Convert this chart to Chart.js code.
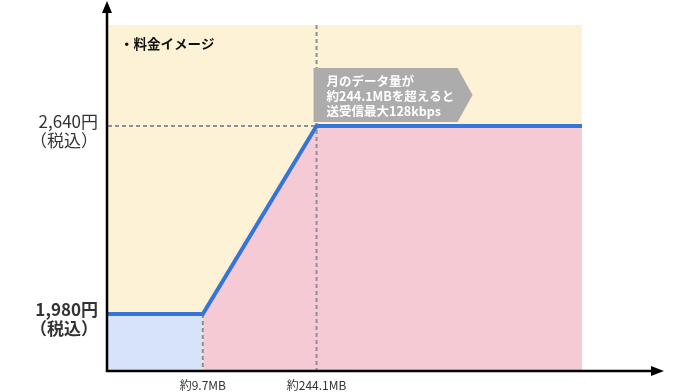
<!DOCTYPE html>
<html>
<head>
<meta charset="utf-8">
<script src="https://cdn.jsdelivr.net/npm/chart.js@4.4.1/dist/chart.umd.min.js"></script>
<style>
body{margin:0;background:#fff;}
</style>
</head>
<body>
<canvas id="chart" width="700" height="392"></canvas>
<script>
// schematic x positions for each breakpoint (axis is not to scale)
var xPositions = [0, 1, 2.2, 5];
var prices = [1980, 1980, 2640, 2640];
var xTickValues = [1, 2.2];
var xTickLabels = ['約9.7MB', '約244.1MB'];
var yTickValues = [1980, 2640];
var yTickLabels = ['1,980円', '2,640円'];
var yTickSub = '（税込）';
var titleText = '・料金イメージ';
var noteLines = ['月のデータ量が', '約244.1MBを超えると', '送受信最大128kbps'];
var yMin = 1783, yMax = 2995, xMax = 5;

var FONT = '"Noto Sans CJK JP", "Noto Sans", sans-serif';

function seg(a, b) {
	var out = [];
	for (var i = a; i <= b; i++) out.push({x: xPositions[i], y: prices[i]});
	return out;
}

var dashStyle = {
	borderColor: '#8c9099',
	borderWidth: 2,
	borderDash: [4, 3],
	pointRadius: 0,
	fill: false,
	order: 1
};

var decor = {
	id: 'decor',
	beforeDraw: function (chart) {
		var a = chart.chartArea, ctx = chart.ctx;
		ctx.save();
		ctx.fillStyle = '#fef2d6';
		ctx.fillRect(a.left, a.top, a.right - a.left, a.bottom - a.top);
		ctx.restore();
	},
	afterDraw: function (chart) {
		var a = chart.chartArea, ctx = chart.ctx;
		var xs = chart.scales.x, ys = chart.scales.y;
		ctx.save();

		// axes with arrow heads
		var ax = a.left - 1, ay = a.bottom + 1;
		ctx.strokeStyle = '#000';
		ctx.fillStyle = '#000';
		ctx.lineWidth = 2.5;
		ctx.beginPath();
		ctx.moveTo(ax, ay + 1);
		ctx.lineTo(ax, 10);
		ctx.moveTo(ax - 1, ay);
		ctx.lineTo(652, ay);
		ctx.stroke();
		ctx.beginPath();
		ctx.moveTo(ax, 1);
		ctx.lineTo(ax - 5, 13);
		ctx.lineTo(ax + 5, 13);
		ctx.closePath();
		ctx.fill();
		ctx.beginPath();
		ctx.moveTo(664, ay);
		ctx.lineTo(651, ay - 5);
		ctx.lineTo(651, ay + 5);
		ctx.closePath();
		ctx.fill();

		// title
		ctx.font = 'bold 13.5px ' + FONT;
		ctx.fillStyle = '#111';
		ctx.textBaseline = 'middle';
		ctx.fillText(titleText, a.left + 12, a.top + 19);

		// note box pointing right
		var bx = xs.getPixelForValue(xPositions[2]) - 3;
		var bb = ys.getPixelForValue(prices[2]) - 4;
		var bt = bb - 54;
		ctx.fillStyle = '#acacac';
		ctx.beginPath();
		ctx.moveTo(bx, bt);
		ctx.lineTo(bx + 144, bt);
		ctx.lineTo(bx + 159, bt + 27);
		ctx.lineTo(bx + 144, bb);
		ctx.lineTo(bx, bb);
		ctx.closePath();
		ctx.fill();
		ctx.fillStyle = '#fff';
		ctx.font = 'bold 12.5px ' + FONT;
		for (var i = 0; i < noteLines.length; i++) {
			ctx.fillText(noteLines[i], bx + 13, bt + 13 + i * 15);
		}
		ctx.restore();
	}
};

new Chart(document.getElementById('chart'), {
	type: 'line',
	plugins: [decor],
	data: {
		datasets: [
			{
				data: seg(0, 3),
				borderColor: '#3575d8',
				borderWidth: 4,
				pointRadius: 0,
				fill: false,
				order: 0
			},
			Object.assign({data: [{x: xPositions[1], y: prices[1]}, {x: xPositions[1], y: yMin}]}, dashStyle),
			Object.assign({data: [{x: xPositions[2], y: yMax}, {x: xPositions[2], y: yMin}]}, dashStyle),
			Object.assign({data: [{x: xPositions[0], y: prices[2]}, {x: xPositions[2], y: prices[2]}]}, dashStyle),
			{
				data: seg(0, 1),
				borderWidth: 0,
				pointRadius: 0,
				backgroundColor: '#d6e3f8',
				fill: 'start',
				order: 3
			},
			{
				data: seg(1, 3),
				borderWidth: 0,
				pointRadius: 0,
				backgroundColor: '#f5cad4',
				fill: 'start',
				order: 3
			}
		]
	},
	options: {
		responsive: false,
		animation: false,
		layout: {padding: {top: 25, right: 118, left: 0, bottom: 0}},
		plugins: {legend: {display: false}, tooltip: {enabled: false}},
		scales: {
			x: {
				type: 'linear',
				min: 0,
				max: xMax,
				grid: {display: false, drawTicks: false},
				border: {display: false},
				afterBuildTicks: function (s) {
					s.ticks = xTickValues.map(function (v) { return {value: v}; });
				},
				afterFit: function (s) {
					s.height = 22;
					s.paddingLeft = 0;
					s.paddingRight = 0;
				},
				ticks: {
					autoSkip: false,
					maxRotation: 0,
					padding: 8,
					color: '#333',
					font: {family: FONT, size: 12},
					callback: function (v) {
						return xTickLabels[xTickValues.indexOf(v)];
					}
				}
			},
			y: {
				min: yMin,
				max: yMax,
				grid: {display: false, drawTicks: false},
				border: {display: false},
				afterBuildTicks: function (s) {
					s.ticks = yTickValues.map(function (v) { return {value: v}; });
				},
				afterFit: function (s) {
					s.width = 108;
					s.paddingTop = 0;
					s.paddingBottom = 0;
				},
				ticks: {
					autoSkip: false,
					padding: 10,
					labelOffset: 5,
					color: '#333',
					font: function (c) {
						var bold = c.tick && c.tick.value === yTickValues[0];
						return {family: FONT, size: 17, weight: bold ? 'bold' : 'normal', lineHeight: 1.1};
					},
					callback: function (v) {
						return [yTickLabels[yTickValues.indexOf(v)], yTickSub];
					}
				}
			}
		}
	}
});
</script>
</body>
</html>
